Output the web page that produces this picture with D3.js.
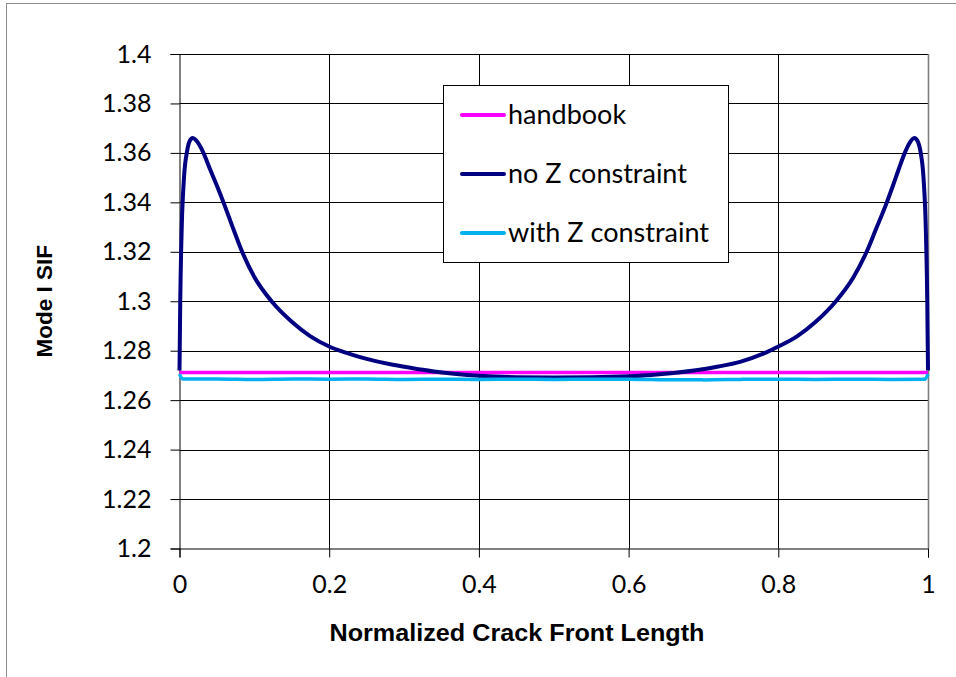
<!DOCTYPE html>
<html>
<head>
<meta charset="utf-8">
<script src="https://cdn.jsdelivr.net/npm/d3@7"></script>
<style>
  body { margin: 0; background: #fff; }
  svg { display: block; }
</style>
</head>
<body>
<div id="viz-container"></div>
<script>
// values
let xTicks = [0, 0.2, 0.4, 0.6, 0.8, 1];
let yTicks = [1.2, 1.22, 1.24, 1.26, 1.28, 1.3, 1.32, 1.34, 1.36, 1.38, 1.4];

let handbookX = [0, 1];
let handbookY = [1.2712, 1.2712];

let noZX = [0, 0.001, 0.003, 0.006, 0.01, 0.014, 0.0176, 0.022, 0.027, 0.032, 0.04, 0.05, 0.0585, 0.07, 0.083, 0.1, 0.123, 0.15, 0.175, 0.2, 0.22, 0.25, 0.28, 0.31, 0.34, 0.37, 0.4, 0.45, 0.5, 0.55, 0.6, 0.63, 0.66, 0.69, 0.72, 0.75, 0.78, 0.8, 0.825, 0.85, 0.877, 0.9, 0.918, 0.93, 0.945, 0.953, 0.961, 0.969, 0.975, 0.9817, 0.986, 0.99, 0.994, 0.997, 0.999, 1];
let noZY = [1.272, 1.30, 1.33, 1.35, 1.3605, 1.365, 1.366, 1.3652, 1.363, 1.36, 1.354, 1.3467, 1.3402, 1.3308, 1.3205, 1.3098, 1.30, 1.2917, 1.2858, 1.2817, 1.2794, 1.2767, 1.2746, 1.273, 1.2716, 1.2706, 1.2699, 1.2693, 1.2692, 1.2693, 1.2697, 1.2702, 1.2710, 1.2721, 1.2736, 1.2756, 1.2788, 1.2817, 1.2858, 1.2917, 1.30, 1.3095, 1.32, 1.3288, 1.34, 1.3466, 1.3535, 1.36, 1.3638, 1.366, 1.3648, 1.3605, 1.35, 1.33, 1.30, 1.272];

let withZX = [0, 0.004, 0.05, 0.1, 0.15, 0.2, 0.25, 0.3, 0.35, 0.4, 0.45, 0.5, 0.55, 0.6, 0.65, 0.7, 0.75, 0.8, 0.85, 0.9, 0.95, 0.996, 1];
let withZY = [1.2705, 1.2686, 1.2686, 1.2684, 1.2686, 1.2685, 1.2686, 1.2684, 1.2685, 1.2684, 1.2685, 1.2684, 1.2685, 1.2685, 1.2683, 1.2682, 1.2684, 1.2685, 1.2684, 1.2685, 1.2684, 1.2685, 1.2705];

let seriesNames = ['handbook', 'no Z constraint', 'with Z constraint'];
let seriesColors = ['#FF00FF', '#000080', '#00B0F0'];

let width = 956;
let height = 677;
let plotLeft = 179.5, plotRight = 928, plotTop = 54, plotBottom = 548.5;

let viz = d3.select('#viz-container')
  .append('svg')
  .attr('width', width)
  .attr('height', height);

viz.append('rect')
  .attr('width', width).attr('height', height)
  .attr('fill', '#fff');

// outer chart frame
viz.append('rect')
  .attr('x', 6.5).attr('y', 3.5)
  .attr('width', 1200).attr('height', 1200)
  .attr('fill', 'none')
  .attr('stroke', '#8c8c8c');

let xScale = d3.scaleLinear().domain([0, 1]).range([plotLeft, plotRight]);
let yScale = d3.scaleLinear().domain([1.2, 1.4]).range([plotBottom, plotTop]);

// gridlines
viz.selectAll('.hgrid').data(yTicks.slice(1)).enter()
  .append('line')
  .attr('class', 'hgrid')
  .attr('x1', plotLeft).attr('x2', plotRight)
  .attr('y1', d => Math.round(yScale(d)) + 0.5)
  .attr('y2', d => Math.round(yScale(d)) + 0.5)
  .attr('stroke', '#000')
  .attr('stroke-width', 1);

viz.selectAll('.vgrid').data(xTicks.slice(1)).enter()
  .append('line')
  .attr('class', 'vgrid')
  .attr('y1', plotTop).attr('y2', plotBottom)
  .attr('x1', d => Math.round(xScale(d)) + 0.5)
  .attr('x2', d => Math.round(xScale(d)) + 0.5)
  .attr('stroke', d => d == 1 ? '#7f7f7f' : '#000')
  .attr('stroke-width', d => d == 1 ? 1.6 : 1);

// axes
let yAxis = d3.axisLeft(yScale)
  .tickValues(yTicks)
  .tickFormat(d3.format('~g'))
  .tickSize(9)
  .tickPadding(19);

let xAxis = d3.axisBottom(xScale)
  .tickValues(xTicks)
  .tickFormat(d3.format('~g'))
  .tickSize(9)
  .tickPadding(18);

let yG = viz.append('g')
  .attr('transform', 'translate(' + plotLeft + ',0)')
  .call(yAxis);

let xG = viz.append('g')
  .attr('transform', 'translate(0,' + plotBottom + ')')
  .call(xAxis);

[yG, xG].forEach(function(g){
  g.select('.domain').attr('stroke', '#000');
  g.selectAll('.tick line').attr('stroke', '#000');
  g.selectAll('.tick text')
    .attr('fill', '#000')
    .attr('font-family', 'Lato, "Open Sans", sans-serif')
    .attr('font-size', 25);
});

// series
let line = d3.line()
  .x(d => xScale(d[0]))
  .y(d => yScale(d[1]))
  .curve(d3.curveMonotoneX);

let seriesData = [
  d3.zip(handbookX, handbookY),
  d3.zip(noZX, noZY),
  d3.zip(withZX, withZY)
];

viz.selectAll('.series').data(seriesData).enter()
  .append('path')
  .attr('class', 'series')
  .attr('d', d => line(d))
  .attr('fill', 'none')
  .attr('stroke', (d, i) => seriesColors[i])
  .attr('stroke-width', (d, i) => i == 1 ? 4 : 3.5)
  .attr('stroke-linejoin', 'round');

// legend
let legend = viz.append('g').attr('class', 'legend');
legend.append('rect')
  .attr('x', 443.5).attr('y', 85.5)
  .attr('width', 285).attr('height', 177)
  .attr('fill', '#fff')
  .attr('stroke', '#000');

let legendItems = legend.selectAll('.legendItem').data(seriesNames).enter()
  .append('g')
  .attr('class', 'legendItem')
  .attr('transform', (d, i) => 'translate(0,' + (115 + i * 59) + ')');

legendItems.append('line')
  .attr('x1', 462).attr('x2', 504)
  .attr('y1', 0).attr('y2', 0)
  .attr('stroke', (d, i) => seriesColors[i])
  .attr('stroke-width', 4)
  .attr('stroke-linecap', 'round');

legendItems.append('text')
  .text(d => d)
  .attr('x', 508)
  .attr('y', 0)
  .attr('dy', '0.34em')
  .attr('font-family', 'Lato, "Open Sans", sans-serif')
  .attr('font-size', 27)
  .attr('fill', '#000');

// axis titles
viz.append('text')
  .text('Normalized Crack Front Length')
  .attr('x', 517)
  .attr('y', 641)
  .attr('text-anchor', 'middle')
  .attr('font-family', '"Liberation Sans", Arial, sans-serif')
  .attr('font-weight', 'bold')
  .attr('font-size', 23)
  .attr('textLength', 375)
  .attr('lengthAdjust', 'spacingAndGlyphs')
  .attr('fill', '#000');

viz.append('text')
  .text('Mode I SIF')
  .attr('transform', 'translate(52,' + ((plotTop + plotBottom) / 2) + ') rotate(-90)')
  .attr('text-anchor', 'middle')
  .attr('font-family', '"Liberation Sans", Arial, sans-serif')
  .attr('font-weight', 'bold')
  .attr('font-size', 22.5)
  .attr('fill', '#000');
</script>
</body>
</html>
